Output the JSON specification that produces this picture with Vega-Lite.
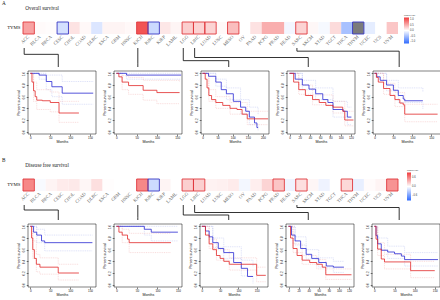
{
"$schema":"https://vega.github.io/schema/vega-lite/v6.json",
"padding":{"left":2,"top":1,"right":0,"bottom":0},
"background":"white",
"spacing":14,
"resolve":{"scale":{"x":"independent","y":"independent","color":"independent"}},
"config":{
 "view":{"stroke":null},
 "font":"Liberation Sans",
 "axis":{"grid":false,"domain":false,"tickSize":1.8,"tickWidth":0.5,"tickColor":"#000","labelFontSize":3,"labelColor":"#111","labelPadding":0.8,"labelOverlap":false,"titleFontSize":3.6,"titleFontWeight":"normal","titlePadding":1.5,"titleColor":"#111","labelFont":"Liberation Sans","titleFont":"Liberation Sans"},
 "axisX":{"titlePadding":0},
 "axisY":{"labelAngle":-90,"labelAlign":"center","labelBaseline":"bottom"},
 "style":{
  "ci":{"interpolate":"step-after","strokeWidth":0.4,"strokeDash":[1,0.8]},
  "main":{"interpolate":"step-after","strokeWidth":0.8},
  "lbox":{"fill":"#ffffff","stroke":"#999999","strokeWidth":0.3},
  "ltxt":{"fontSize":2.5,"lineHeight":3.1,"align":"right","baseline":"top","fill":"#111111","dy":0.6},
  "lsw":{"fontSize":2.5,"align":"left","baseline":"top","dy":0.6},
  "conn":{"stroke":"#333333","strokeWidth":0.8}
 }
},
"datasets":{
 "hm":[
  {"s":"A","gene":"TYMS","c":"ACC","v":0.57,"sig":1},{"s":"A","gene":"TYMS","c":"BLCA","v":0.03,"sig":0},{"s":"A","gene":"TYMS","c":"BRCA","v":0.02,"sig":0},{"s":"A","gene":"TYMS","c":"CESC","v":-0.25,"sig":1},{"s":"A","gene":"TYMS","c":"CHOL","v":0.17,"sig":0},{"s":"A","gene":"TYMS","c":"COAD","v":0.04,"sig":0},{"s":"A","gene":"TYMS","c":"DLBC","v":-0.2,"sig":0},{"s":"A","gene":"TYMS","c":"ESCA","v":0.07,"sig":0},{"s":"A","gene":"TYMS","c":"GBM","v":0.07,"sig":0},{"s":"A","gene":"TYMS","c":"HNSC","v":0.04,"sig":0},{"s":"A","gene":"TYMS","c":"KICH","v":1.05,"sig":1},{"s":"A","gene":"TYMS","c":"KIRC","v":-0.3,"sig":1},{"s":"A","gene":"TYMS","c":"KIRP","v":0.15,"sig":0},{"s":"A","gene":"TYMS","c":"LAML","v":0.06,"sig":0},{"s":"A","gene":"TYMS","c":"LGG","v":0.3,"sig":1},{"s":"A","gene":"TYMS","c":"LIHC","v":0.27,"sig":1},{"s":"A","gene":"TYMS","c":"LUAD","v":0.27,"sig":1},{"s":"A","gene":"TYMS","c":"LUSC","v":0.04,"sig":0},{"s":"A","gene":"TYMS","c":"MESO","v":0.4,"sig":1},{"s":"A","gene":"TYMS","c":"OV","v":0.0,"sig":0},{"s":"A","gene":"TYMS","c":"PAAD","v":0.18,"sig":0},{"s":"A","gene":"TYMS","c":"PCPG","v":0.5,"sig":0},{"s":"A","gene":"TYMS","c":"PRAD","v":0.5,"sig":0},{"s":"A","gene":"TYMS","c":"READ","v":-0.07,"sig":0},{"s":"A","gene":"TYMS","c":"SARC","v":0.27,"sig":1},{"s":"A","gene":"TYMS","c":"SKCM","v":0.05,"sig":0},{"s":"A","gene":"TYMS","c":"STAD","v":-0.05,"sig":0},{"s":"A","gene":"TYMS","c":"TGCT","v":0.22,"sig":0},{"s":"A","gene":"TYMS","c":"THCA","v":-0.5,"sig":0},{"s":"A","gene":"TYMS","c":"THYM","v":0,"sig":1,"na":true},{"s":"A","gene":"TYMS","c":"UCEC","v":-0.15,"sig":0},{"s":"A","gene":"TYMS","c":"UCS","v":0.0,"sig":0},{"s":"A","gene":"TYMS","c":"UVM","v":0.35,"sig":0},
  {"s":"B","gene":"TYMS","c":"ACC","v":0.55,"sig":1},{"s":"B","gene":"TYMS","c":"BLCA","v":-0.03,"sig":0},{"s":"B","gene":"TYMS","c":"BRCA","v":0.05,"sig":0},{"s":"B","gene":"TYMS","c":"CESC","v":0.09,"sig":0},{"s":"B","gene":"TYMS","c":"CHOL","v":0.1,"sig":0},{"s":"B","gene":"TYMS","c":"COAD","v":0.04,"sig":0},{"s":"B","gene":"TYMS","c":"DLBC","v":0.15,"sig":0},{"s":"B","gene":"TYMS","c":"ESCA","v":0.01,"sig":0},{"s":"B","gene":"TYMS","c":"GBM","v":0.0,"sig":0},{"s":"B","gene":"TYMS","c":"HNSC","v":0.0,"sig":0},{"s":"B","gene":"TYMS","c":"KICH","v":0.55,"sig":1},{"s":"B","gene":"TYMS","c":"KIRC","v":-0.22,"sig":1},{"s":"B","gene":"TYMS","c":"KIRP","v":0.05,"sig":0},{"s":"B","gene":"TYMS","c":"LAML","v":0.0,"sig":0},{"s":"B","gene":"TYMS","c":"LGG","v":0.22,"sig":1},{"s":"B","gene":"TYMS","c":"LIHC","v":0.22,"sig":1},{"s":"B","gene":"TYMS","c":"LUAD","v":0.06,"sig":0},{"s":"B","gene":"TYMS","c":"LUSC","v":0.07,"sig":0},{"s":"B","gene":"TYMS","c":"MESO","v":0.09,"sig":0},{"s":"B","gene":"TYMS","c":"OV","v":-0.05,"sig":0},{"s":"B","gene":"TYMS","c":"PAAD","v":0.08,"sig":0},{"s":"B","gene":"TYMS","c":"PCPG","v":0.2,"sig":0},{"s":"B","gene":"TYMS","c":"PRAD","v":0.27,"sig":1},{"s":"B","gene":"TYMS","c":"READ","v":-0.07,"sig":0},{"s":"B","gene":"TYMS","c":"SARC","v":0.15,"sig":1},{"s":"B","gene":"TYMS","c":"SKCM","v":0.04,"sig":0},{"s":"B","gene":"TYMS","c":"STAD","v":-0.07,"sig":0},{"s":"B","gene":"TYMS","c":"TGCT","v":0.0,"sig":0},{"s":"B","gene":"TYMS","c":"THCA","v":0.18,"sig":1},{"s":"B","gene":"TYMS","c":"THYM","v":-0.1,"sig":0},{"s":"B","gene":"TYMS","c":"UCEC","v":0.02,"sig":0},{"s":"B","gene":"TYMS","c":"UCS","v":0.05,"sig":0},{"s":"B","gene":"TYMS","c":"UVM","v":0.5,"sig":1}
 ],
 "cn":[
  {"s":"A","src":"ACC","tgt":"CESC"},{"s":"A","src":"KICH","tgt":"KICH"},{"s":"A","src":"LGG","tgt":"MESO"},{"s":"A","src":"LIHC","tgt":"SKCM"},{"s":"A","src":"SARC","tgt":"end"},
  {"s":"B","src":"ACC","tgt":"CESC"},{"s":"B","src":"KICH","tgt":"KICH"},{"s":"B","src":"LGG","tgt":"MESO"},{"s":"B","src":"LIHC","tgt":"SKCM"},{"s":"B","src":"SARC","tgt":"end"}
 ],
 "km":[
  {"p":"A1","g":"L","k":"m","t":0,"s":1},{"p":"A1","g":"L","k":"m","t":22,"s":0.97},{"p":"A1","g":"L","k":"m","t":40,"s":0.86},{"p":"A1","g":"L","k":"m","t":54,"s":0.77},{"p":"A1","g":"L","k":"m","t":80,"s":0.66},{"p":"A1","g":"L","k":"m","t":158,"s":0.66},
  {"p":"A1","g":"H","k":"m","t":0,"s":1},{"p":"A1","g":"H","k":"m","t":4,"s":0.85},{"p":"A1","g":"H","k":"m","t":8,"s":0.7},{"p":"A1","g":"H","k":"m","t":12,"s":0.6},{"p":"A1","g":"H","k":"m","t":16,"s":0.54},{"p":"A1","g":"H","k":"m","t":30,"s":0.53},{"p":"A1","g":"H","k":"m","t":50,"s":0.5},{"p":"A1","g":"H","k":"m","t":72,"s":0.32},{"p":"A1","g":"H","k":"m","t":122,"s":0.32},
  {"p":"A1","g":"L","k":"hi","t":0,"s":1},{"p":"A1","g":"L","k":"hi","t":40,"s":0.97},{"p":"A1","g":"L","k":"hi","t":80,"s":0.86},{"p":"A1","g":"L","k":"hi","t":158,"s":0.86},
  {"p":"A1","g":"L","k":"lo","t":0,"s":1},{"p":"A1","g":"L","k":"lo","t":22,"s":0.9},{"p":"A1","g":"L","k":"lo","t":40,"s":0.72},{"p":"A1","g":"L","k":"lo","t":54,"s":0.6},{"p":"A1","g":"L","k":"lo","t":80,"s":0.47},{"p":"A1","g":"L","k":"lo","t":158,"s":0.47},
  {"p":"A1","g":"H","k":"hi","t":0,"s":1},{"p":"A1","g":"H","k":"hi","t":8,"s":0.85},{"p":"A1","g":"H","k":"hi","t":16,"s":0.72},{"p":"A1","g":"H","k":"hi","t":50,"s":0.68},{"p":"A1","g":"H","k":"hi","t":72,"s":0.52},{"p":"A1","g":"H","k":"hi","t":122,"s":0.52},
  {"p":"A1","g":"H","k":"lo","t":0,"s":1},{"p":"A1","g":"H","k":"lo","t":8,"s":0.52},{"p":"A1","g":"H","k":"lo","t":16,"s":0.38},{"p":"A1","g":"H","k":"lo","t":50,"s":0.34},{"p":"A1","g":"H","k":"lo","t":72,"s":0.16},{"p":"A1","g":"H","k":"lo","t":122,"s":0.16},

  {"p":"A2","g":"L","k":"m","t":0,"s":1},{"p":"A2","g":"L","k":"m","t":25,"s":0.97},{"p":"A2","g":"L","k":"m","t":160,"s":0.97},
  {"p":"A2","g":"L","k":"hi","t":0,"s":1},{"p":"A2","g":"L","k":"hi","t":160,"s":1},
  {"p":"A2","g":"L","k":"lo","t":0,"s":1},{"p":"A2","g":"L","k":"lo","t":25,"s":0.9},{"p":"A2","g":"L","k":"lo","t":160,"s":0.9},
  {"p":"A2","g":"H","k":"m","t":0,"s":1},{"p":"A2","g":"H","k":"m","t":6,"s":0.94},{"p":"A2","g":"H","k":"m","t":14,"s":0.85},{"p":"A2","g":"H","k":"m","t":30,"s":0.79},{"p":"A2","g":"H","k":"m","t":66,"s":0.71},{"p":"A2","g":"H","k":"m","t":100,"s":0.67},{"p":"A2","g":"H","k":"m","t":156,"s":0.67},
  {"p":"A2","g":"H","k":"hi","t":0,"s":1},{"p":"A2","g":"H","k":"hi","t":14,"s":0.96},{"p":"A2","g":"H","k":"hi","t":30,"s":0.93},{"p":"A2","g":"H","k":"hi","t":66,"s":0.88},{"p":"A2","g":"H","k":"hi","t":156,"s":0.86},
  {"p":"A2","g":"H","k":"lo","t":0,"s":1},{"p":"A2","g":"H","k":"lo","t":14,"s":0.72},{"p":"A2","g":"H","k":"lo","t":30,"s":0.64},{"p":"A2","g":"H","k":"lo","t":66,"s":0.54},{"p":"A2","g":"H","k":"lo","t":100,"s":0.48},{"p":"A2","g":"H","k":"lo","t":156,"s":0.48},

  {"p":"A3","g":"L","k":"m","t":0,"s":1},{"p":"A3","g":"L","k":"m","t":20,"s":0.95},{"p":"A3","g":"L","k":"m","t":44,"s":0.85},{"p":"A3","g":"L","k":"m","t":62,"s":0.72},{"p":"A3","g":"L","k":"m","t":79,"s":0.65},{"p":"A3","g":"L","k":"m","t":102,"s":0.52},{"p":"A3","g":"L","k":"m","t":126,"s":0.42},{"p":"A3","g":"L","k":"m","t":143,"s":0.35},{"p":"A3","g":"L","k":"m","t":155,"s":0.25},{"p":"A3","g":"L","k":"m","t":172,"s":0.15},{"p":"A3","g":"L","k":"m","t":180,"s":0.07},{"p":"A3","g":"L","k":"m","t":184,"s":0.07},
  {"p":"A3","g":"H","k":"m","t":0,"s":1},{"p":"A3","g":"H","k":"m","t":9,"s":0.9},{"p":"A3","g":"H","k":"m","t":15,"s":0.75},{"p":"A3","g":"H","k":"m","t":21,"s":0.62},{"p":"A3","g":"H","k":"m","t":30,"s":0.55},{"p":"A3","g":"H","k":"m","t":44,"s":0.5},{"p":"A3","g":"H","k":"m","t":67,"s":0.45},{"p":"A3","g":"H","k":"m","t":91,"s":0.4},{"p":"A3","g":"H","k":"m","t":114,"s":0.38},{"p":"A3","g":"H","k":"m","t":131,"s":0.3},{"p":"A3","g":"H","k":"m","t":148,"s":0.22},{"p":"A3","g":"H","k":"m","t":217,"s":0.22},
  {"p":"A3","g":"L","k":"hi","t":0,"s":1},{"p":"A3","g":"L","k":"hi","t":44,"s":0.9},{"p":"A3","g":"L","k":"hi","t":79,"s":0.75},{"p":"A3","g":"L","k":"hi","t":126,"s":0.55},{"p":"A3","g":"L","k":"hi","t":155,"s":0.42},{"p":"A3","g":"L","k":"hi","t":184,"s":0.3},
  {"p":"A3","g":"L","k":"lo","t":0,"s":1},{"p":"A3","g":"L","k":"lo","t":44,"s":0.78},{"p":"A3","g":"L","k":"lo","t":79,"s":0.55},{"p":"A3","g":"L","k":"lo","t":126,"s":0.3},{"p":"A3","g":"L","k":"lo","t":155,"s":0.12},{"p":"A3","g":"L","k":"lo","t":184,"s":0.01},
  {"p":"A3","g":"H","k":"hi","t":0,"s":1},{"p":"A3","g":"H","k":"hi","t":21,"s":0.72},{"p":"A3","g":"H","k":"hi","t":44,"s":0.6},{"p":"A3","g":"H","k":"hi","t":91,"s":0.5},{"p":"A3","g":"H","k":"hi","t":148,"s":0.35},{"p":"A3","g":"H","k":"hi","t":217,"s":0.35},
  {"p":"A3","g":"H","k":"lo","t":0,"s":1},{"p":"A3","g":"H","k":"lo","t":21,"s":0.52},{"p":"A3","g":"H","k":"lo","t":44,"s":0.4},{"p":"A3","g":"H","k":"lo","t":91,"s":0.3},{"p":"A3","g":"H","k":"lo","t":148,"s":0.12},{"p":"A3","g":"H","k":"lo","t":217,"s":0.12},

  {"p":"A4","g":"L","k":"m","t":0,"s":1},{"p":"A4","g":"L","k":"m","t":11,"s":0.9},{"p":"A4","g":"L","k":"m","t":25,"s":0.8},{"p":"A4","g":"L","k":"m","t":38,"s":0.73},{"p":"A4","g":"L","k":"m","t":51,"s":0.65},{"p":"A4","g":"L","k":"m","t":65,"s":0.55},{"p":"A4","g":"L","k":"m","t":75,"s":0.5},{"p":"A4","g":"L","k":"m","t":85,"s":0.38},{"p":"A4","g":"L","k":"m","t":105,"s":0.35},{"p":"A4","g":"L","k":"m","t":113,"s":0.25},{"p":"A4","g":"L","k":"m","t":121,"s":0.25},
  {"p":"A4","g":"H","k":"m","t":0,"s":1},{"p":"A4","g":"H","k":"m","t":8,"s":0.85},{"p":"A4","g":"H","k":"m","t":18,"s":0.72},{"p":"A4","g":"H","k":"m","t":31,"s":0.62},{"p":"A4","g":"H","k":"m","t":45,"s":0.55},{"p":"A4","g":"H","k":"m","t":58,"s":0.5},{"p":"A4","g":"H","k":"m","t":71,"s":0.45},{"p":"A4","g":"H","k":"m","t":85,"s":0.42},{"p":"A4","g":"H","k":"m","t":104,"s":0.35},{"p":"A4","g":"H","k":"m","t":108,"s":0.2},{"p":"A4","g":"H","k":"m","t":125,"s":0.2},
  {"p":"A4","g":"L","k":"hi","t":0,"s":1},{"p":"A4","g":"L","k":"hi","t":25,"s":0.88},{"p":"A4","g":"L","k":"hi","t":51,"s":0.75},{"p":"A4","g":"L","k":"hi","t":85,"s":0.52},{"p":"A4","g":"L","k":"hi","t":113,"s":0.42},{"p":"A4","g":"L","k":"hi","t":121,"s":0.42},
  {"p":"A4","g":"L","k":"lo","t":0,"s":1},{"p":"A4","g":"L","k":"lo","t":25,"s":0.72},{"p":"A4","g":"L","k":"lo","t":51,"s":0.55},{"p":"A4","g":"L","k":"lo","t":85,"s":0.25},{"p":"A4","g":"L","k":"lo","t":113,"s":0.12},{"p":"A4","g":"L","k":"lo","t":121,"s":0.12},
  {"p":"A4","g":"H","k":"hi","t":0,"s":1},{"p":"A4","g":"H","k":"hi","t":18,"s":0.8},{"p":"A4","g":"H","k":"hi","t":45,"s":0.63},{"p":"A4","g":"H","k":"hi","t":85,"s":0.52},{"p":"A4","g":"H","k":"hi","t":108,"s":0.35},{"p":"A4","g":"H","k":"hi","t":125,"s":0.35},
  {"p":"A4","g":"H","k":"lo","t":0,"s":1},{"p":"A4","g":"H","k":"lo","t":18,"s":0.64},{"p":"A4","g":"H","k":"lo","t":45,"s":0.46},{"p":"A4","g":"H","k":"lo","t":85,"s":0.32},{"p":"A4","g":"H","k":"lo","t":108,"s":0.1},{"p":"A4","g":"H","k":"lo","t":125,"s":0.1},

  {"p":"A5","g":"L","k":"m","t":0,"s":1},{"p":"A5","g":"L","k":"m","t":6,"s":0.94},{"p":"A5","g":"L","k":"m","t":15,"s":0.88},{"p":"A5","g":"L","k":"m","t":32,"s":0.8},{"p":"A5","g":"L","k":"m","t":50,"s":0.71},{"p":"A5","g":"L","k":"m","t":63,"s":0.62},{"p":"A5","g":"L","k":"m","t":76,"s":0.56},{"p":"A5","g":"L","k":"m","t":80,"s":0.53},{"p":"A5","g":"L","k":"m","t":128,"s":0.53},
  {"p":"A5","g":"H","k":"m","t":0,"s":1},{"p":"A5","g":"H","k":"m","t":5,"s":0.93},{"p":"A5","g":"H","k":"m","t":10,"s":0.85},{"p":"A5","g":"H","k":"m","t":24,"s":0.74},{"p":"A5","g":"H","k":"m","t":41,"s":0.62},{"p":"A5","g":"H","k":"m","t":54,"s":0.55},{"p":"A5","g":"H","k":"m","t":67,"s":0.49},{"p":"A5","g":"H","k":"m","t":76,"s":0.46},{"p":"A5","g":"H","k":"m","t":80,"s":0.3},{"p":"A5","g":"H","k":"m","t":167,"s":0.3},
  {"p":"A5","g":"L","k":"hi","t":0,"s":1},{"p":"A5","g":"L","k":"hi","t":32,"s":0.88},{"p":"A5","g":"L","k":"hi","t":63,"s":0.75},{"p":"A5","g":"L","k":"hi","t":128,"s":0.68},
  {"p":"A5","g":"L","k":"lo","t":0,"s":1},{"p":"A5","g":"L","k":"lo","t":32,"s":0.7},{"p":"A5","g":"L","k":"lo","t":63,"s":0.5},{"p":"A5","g":"L","k":"lo","t":128,"s":0.38},
  {"p":"A5","g":"H","k":"hi","t":0,"s":1},{"p":"A5","g":"H","k":"hi","t":24,"s":0.83},{"p":"A5","g":"H","k":"hi","t":54,"s":0.67},{"p":"A5","g":"H","k":"hi","t":80,"s":0.47},{"p":"A5","g":"H","k":"hi","t":167,"s":0.47},
  {"p":"A5","g":"H","k":"lo","t":0,"s":1},{"p":"A5","g":"H","k":"lo","t":24,"s":0.64},{"p":"A5","g":"H","k":"lo","t":54,"s":0.43},{"p":"A5","g":"H","k":"lo","t":80,"s":0.17},{"p":"A5","g":"H","k":"lo","t":167,"s":0.17},

  {"p":"B1","g":"L","k":"m","t":0,"s":1},{"p":"B1","g":"L","k":"m","t":8,"s":0.9},{"p":"B1","g":"L","k":"m","t":16,"s":0.85},{"p":"B1","g":"L","k":"m","t":28,"s":0.75},{"p":"B1","g":"L","k":"m","t":36,"s":0.72},{"p":"B1","g":"L","k":"m","t":156,"s":0.72},
  {"p":"B1","g":"H","k":"m","t":0,"s":1},{"p":"B1","g":"H","k":"m","t":3,"s":0.8},{"p":"B1","g":"H","k":"m","t":6,"s":0.6},{"p":"B1","g":"H","k":"m","t":10,"s":0.45},{"p":"B1","g":"H","k":"m","t":15,"s":0.35},{"p":"B1","g":"H","k":"m","t":24,"s":0.3},{"p":"B1","g":"H","k":"m","t":70,"s":0.2},{"p":"B1","g":"H","k":"m","t":122,"s":0.2},
  {"p":"B1","g":"L","k":"hi","t":0,"s":1},{"p":"B1","g":"L","k":"hi","t":16,"s":0.95},{"p":"B1","g":"L","k":"hi","t":36,"s":0.85},{"p":"B1","g":"L","k":"hi","t":156,"s":0.85},
  {"p":"B1","g":"L","k":"lo","t":0,"s":1},{"p":"B1","g":"L","k":"lo","t":16,"s":0.72},{"p":"B1","g":"L","k":"lo","t":36,"s":0.58},{"p":"B1","g":"L","k":"lo","t":156,"s":0.58},
  {"p":"B1","g":"H","k":"hi","t":0,"s":1},{"p":"B1","g":"H","k":"hi","t":6,"s":0.75},{"p":"B1","g":"H","k":"hi","t":15,"s":0.52},{"p":"B1","g":"H","k":"hi","t":24,"s":0.46},{"p":"B1","g":"H","k":"hi","t":70,"s":0.35},{"p":"B1","g":"H","k":"hi","t":122,"s":0.35},
  {"p":"B1","g":"H","k":"lo","t":0,"s":1},{"p":"B1","g":"H","k":"lo","t":6,"s":0.45},{"p":"B1","g":"H","k":"lo","t":15,"s":0.22},{"p":"B1","g":"H","k":"lo","t":24,"s":0.18},{"p":"B1","g":"H","k":"lo","t":70,"s":0.08},{"p":"B1","g":"H","k":"lo","t":122,"s":0.08},

  {"p":"B2","g":"L","k":"m","t":0,"s":1},{"p":"B2","g":"L","k":"m","t":68,"s":0.95},{"p":"B2","g":"L","k":"m","t":85,"s":0.9},{"p":"B2","g":"L","k":"m","t":150,"s":0.9},
  {"p":"B2","g":"L","k":"hi","t":0,"s":1},{"p":"B2","g":"L","k":"hi","t":150,"s":1},
  {"p":"B2","g":"L","k":"lo","t":0,"s":1},{"p":"B2","g":"L","k":"lo","t":68,"s":0.85},{"p":"B2","g":"L","k":"lo","t":85,"s":0.75},{"p":"B2","g":"L","k":"lo","t":150,"s":0.75},
  {"p":"B2","g":"H","k":"m","t":0,"s":1},{"p":"B2","g":"H","k":"m","t":6,"s":0.9},{"p":"B2","g":"H","k":"m","t":14,"s":0.85},{"p":"B2","g":"H","k":"m","t":27,"s":0.78},{"p":"B2","g":"H","k":"m","t":31,"s":0.72},{"p":"B2","g":"H","k":"m","t":133,"s":0.72},
  {"p":"B2","g":"H","k":"hi","t":0,"s":1},{"p":"B2","g":"H","k":"hi","t":14,"s":0.95},{"p":"B2","g":"H","k":"hi","t":31,"s":0.88},{"p":"B2","g":"H","k":"hi","t":133,"s":0.88},
  {"p":"B2","g":"H","k":"lo","t":0,"s":1},{"p":"B2","g":"H","k":"lo","t":14,"s":0.72},{"p":"B2","g":"H","k":"lo","t":31,"s":0.55},{"p":"B2","g":"H","k":"lo","t":133,"s":0.55},

  {"p":"B3","g":"L","k":"m","t":0,"s":1},{"p":"B3","g":"L","k":"m","t":10,"s":0.92},{"p":"B3","g":"L","k":"m","t":20,"s":0.82},{"p":"B3","g":"L","k":"m","t":30,"s":0.72},{"p":"B3","g":"L","k":"m","t":45,"s":0.62},{"p":"B3","g":"L","k":"m","t":60,"s":0.55},{"p":"B3","g":"L","k":"m","t":87,"s":0.38},{"p":"B3","g":"L","k":"m","t":108,"s":0.28},{"p":"B3","g":"L","k":"m","t":125,"s":0.14},{"p":"B3","g":"L","k":"m","t":140,"s":0.14},
  {"p":"B3","g":"H","k":"m","t":0,"s":1},{"p":"B3","g":"H","k":"m","t":10,"s":0.85},{"p":"B3","g":"H","k":"m","t":20,"s":0.7},{"p":"B3","g":"H","k":"m","t":30,"s":0.6},{"p":"B3","g":"H","k":"m","t":40,"s":0.5},{"p":"B3","g":"H","k":"m","t":50,"s":0.45},{"p":"B3","g":"H","k":"m","t":60,"s":0.4},{"p":"B3","g":"H","k":"m","t":75,"s":0.35},{"p":"B3","g":"H","k":"m","t":150,"s":0.16},{"p":"B3","g":"H","k":"m","t":175,"s":0.16},
  {"p":"B3","g":"L","k":"hi","t":0,"s":1},{"p":"B3","g":"L","k":"hi","t":30,"s":0.8},{"p":"B3","g":"L","k":"hi","t":60,"s":0.65},{"p":"B3","g":"L","k":"hi","t":108,"s":0.42},{"p":"B3","g":"L","k":"hi","t":140,"s":0.3},
  {"p":"B3","g":"L","k":"lo","t":0,"s":1},{"p":"B3","g":"L","k":"lo","t":30,"s":0.64},{"p":"B3","g":"L","k":"lo","t":60,"s":0.45},{"p":"B3","g":"L","k":"lo","t":108,"s":0.15},{"p":"B3","g":"L","k":"lo","t":140,"s":0.02},
  {"p":"B3","g":"H","k":"hi","t":0,"s":1},{"p":"B3","g":"H","k":"hi","t":20,"s":0.78},{"p":"B3","g":"H","k":"hi","t":40,"s":0.6},{"p":"B3","g":"H","k":"hi","t":75,"s":0.46},{"p":"B3","g":"H","k":"hi","t":150,"s":0.3},{"p":"B3","g":"H","k":"hi","t":175,"s":0.3},
  {"p":"B3","g":"H","k":"lo","t":0,"s":1},{"p":"B3","g":"H","k":"lo","t":20,"s":0.62},{"p":"B3","g":"H","k":"lo","t":40,"s":0.42},{"p":"B3","g":"H","k":"lo","t":75,"s":0.25},{"p":"B3","g":"H","k":"lo","t":150,"s":0.05},{"p":"B3","g":"H","k":"lo","t":175,"s":0.05},

  {"p":"B4","g":"L","k":"m","t":0,"s":1},{"p":"B4","g":"L","k":"m","t":6,"s":0.85},{"p":"B4","g":"L","k":"m","t":13,"s":0.75},{"p":"B4","g":"L","k":"m","t":24,"s":0.62},{"p":"B4","g":"L","k":"m","t":35,"s":0.52},{"p":"B4","g":"L","k":"m","t":46,"s":0.45},{"p":"B4","g":"L","k":"m","t":60,"s":0.38},{"p":"B4","g":"L","k":"m","t":75,"s":0.32},{"p":"B4","g":"L","k":"m","t":89,"s":0.3},{"p":"B4","g":"L","k":"m","t":110,"s":0.3},
  {"p":"B4","g":"H","k":"m","t":0,"s":1},{"p":"B4","g":"H","k":"m","t":4,"s":0.8},{"p":"B4","g":"H","k":"m","t":9,"s":0.62},{"p":"B4","g":"H","k":"m","t":17,"s":0.5},{"p":"B4","g":"H","k":"m","t":27,"s":0.42},{"p":"B4","g":"H","k":"m","t":42,"s":0.38},{"p":"B4","g":"H","k":"m","t":56,"s":0.35},{"p":"B4","g":"H","k":"m","t":67,"s":0.3},{"p":"B4","g":"H","k":"m","t":74,"s":0.17},{"p":"B4","g":"H","k":"m","t":125,"s":0.17},
  {"p":"B4","g":"L","k":"hi","t":0,"s":1},{"p":"B4","g":"L","k":"hi","t":13,"s":0.82},{"p":"B4","g":"L","k":"hi","t":35,"s":0.6},{"p":"B4","g":"L","k":"hi","t":60,"s":0.46},{"p":"B4","g":"L","k":"hi","t":89,"s":0.4},{"p":"B4","g":"L","k":"hi","t":110,"s":0.4},
  {"p":"B4","g":"L","k":"lo","t":0,"s":1},{"p":"B4","g":"L","k":"lo","t":13,"s":0.68},{"p":"B4","g":"L","k":"lo","t":35,"s":0.44},{"p":"B4","g":"L","k":"lo","t":60,"s":0.3},{"p":"B4","g":"L","k":"lo","t":89,"s":0.21},{"p":"B4","g":"L","k":"lo","t":110,"s":0.21},
  {"p":"B4","g":"H","k":"hi","t":0,"s":1},{"p":"B4","g":"H","k":"hi","t":9,"s":0.7},{"p":"B4","g":"H","k":"hi","t":27,"s":0.5},{"p":"B4","g":"H","k":"hi","t":56,"s":0.43},{"p":"B4","g":"H","k":"hi","t":74,"s":0.27},{"p":"B4","g":"H","k":"hi","t":125,"s":0.27},
  {"p":"B4","g":"H","k":"lo","t":0,"s":1},{"p":"B4","g":"H","k":"lo","t":9,"s":0.55},{"p":"B4","g":"H","k":"lo","t":27,"s":0.35},{"p":"B4","g":"H","k":"lo","t":56,"s":0.27},{"p":"B4","g":"H","k":"lo","t":74,"s":0.09},{"p":"B4","g":"H","k":"lo","t":125,"s":0.09},

  {"p":"B5","g":"L","k":"m","t":0,"s":1},{"p":"B5","g":"L","k":"m","t":4,"s":0.84},{"p":"B5","g":"L","k":"m","t":8,"s":0.7},{"p":"B5","g":"L","k":"m","t":17,"s":0.59},{"p":"B5","g":"L","k":"m","t":33,"s":0.56},{"p":"B5","g":"L","k":"m","t":50,"s":0.53},{"p":"B5","g":"L","k":"m","t":67,"s":0.49},{"p":"B5","g":"L","k":"m","t":75,"s":0.43},{"p":"B5","g":"L","k":"m","t":158,"s":0.43},
  {"p":"B5","g":"H","k":"m","t":0,"s":1},{"p":"B5","g":"H","k":"m","t":4,"s":0.78},{"p":"B5","g":"H","k":"m","t":8,"s":0.61},{"p":"B5","g":"H","k":"m","t":17,"s":0.44},{"p":"B5","g":"H","k":"m","t":25,"s":0.39},{"p":"B5","g":"H","k":"m","t":90,"s":0.24},{"p":"B5","g":"H","k":"m","t":150,"s":0.24},
  {"p":"B5","g":"L","k":"hi","t":0,"s":1},{"p":"B5","g":"L","k":"hi","t":8,"s":0.8},{"p":"B5","g":"L","k":"hi","t":33,"s":0.66},{"p":"B5","g":"L","k":"hi","t":75,"s":0.55},{"p":"B5","g":"L","k":"hi","t":158,"s":0.55},
  {"p":"B5","g":"L","k":"lo","t":0,"s":1},{"p":"B5","g":"L","k":"lo","t":8,"s":0.6},{"p":"B5","g":"L","k":"lo","t":33,"s":0.45},{"p":"B5","g":"L","k":"lo","t":75,"s":0.32},{"p":"B5","g":"L","k":"lo","t":158,"s":0.32},
  {"p":"B5","g":"H","k":"hi","t":0,"s":1},{"p":"B5","g":"H","k":"hi","t":8,"s":0.72},{"p":"B5","g":"H","k":"hi","t":25,"s":0.52},{"p":"B5","g":"H","k":"hi","t":90,"s":0.4},{"p":"B5","g":"H","k":"hi","t":150,"s":0.4},
  {"p":"B5","g":"H","k":"lo","t":0,"s":1},{"p":"B5","g":"H","k":"lo","t":8,"s":0.5},{"p":"B5","g":"H","k":"lo","t":25,"s":0.27},{"p":"B5","g":"H","k":"lo","t":90,"s":0.12},{"p":"B5","g":"H","k":"lo","t":150,"s":0.12}
 ]
},
"vconcat":[
 {"spacing":0,"resolve":{"scale":{"x":"independent","y":"independent","color":"independent"}},
  "vconcat":[
   {"width":375,"height":12,
    "data":{"name":"hm"},
    "transform":[{"filter":"datum.s=='A'"}],
    "title":{"text":["A","\u200b\u00a0\u00a0\u00a0\u00a0\u00a0\u00a0\u00a0\u00a0\u00a0\u00a0\u00a0\u00a0\u00a0\u00a0\u00a0\u00a0\u00a0\u00a0Overall survival"],"anchor":"start","frame":"group","offset":-1.5,"baseline":"alphabetic","lineHeight":5,"fontSize":5.2,"font":"Liberation Serif","fontWeight":"normal","color":"#222222","dx":-26},
    "encoding":{
     "x":{"field":"c","type":"nominal","scale":{"domain":["ACC","BLCA","BRCA","CESC","CHOL","COAD","DLBC","ESCA","GBM","HNSC","KICH","KIRC","KIRP","LAML","LGG","LIHC","LUAD","LUSC","MESO","OV","PAAD","PCPG","PRAD","READ","SARC","SKCM","STAD","TGCT","THCA","THYM","UCEC","UCS","UVM"],"range":[-5,370],"paddingInner":0,"paddingOuter":0},
      "axis":{"title":null,"labelAngle":-45,"labelFont":"Liberation Serif","labelFontSize":4.6,"labelColor":"#666666","ticks":false,"labelPadding":2,"labelAlign":"right","labelBaseline":"middle"}},
     "y":{"field":"gene","type":"nominal","scale":{"paddingInner":0,"paddingOuter":0},
      "axis":{"title":null,"labelFont":"Liberation Serif","labelFontSize":4.8,"labelColor":"#111111","labelAngle":0,"labelAlign":"right","labelBaseline":"middle","labelPadding":8,"ticks":false}}
    },
    "layer":[
     {"mark":{"type":"rect"},
      "encoding":{"color":{"condition":{"test":"datum.na","value":"#7b7b7b"},"field":"v","type":"quantitative",
       "scale":{"domain":[-1.2,0,1.2],"range":["#2f6bff","#ffffff","#f03c3c"],"interpolate":"rgb"},
       "legend":{"title":"log10(HR)","orient":"none","legendX":376,"legendY":-8,"padding":0,"direction":"vertical","gradientLength":26,"gradientThickness":5,"titleFontSize":2.5,"titleFontWeight":"normal","titlePadding":1,"titleColor":"#333333","labelFontSize":2.6,"labelOffset":1,"labelColor":"#333333","labelOverlap":false,"values":[1,0.5,0,-0.5,-1],"format":".1f","gradientStrokeWidth":0}}}},
     {"transform":[{"filter":"datum.sig==1"}],"mark":{"type":"rect","fillOpacity":0,"strokeWidth":0.9},
      "encoding":{"stroke":{"condition":{"test":"datum.v>0","value":"#e0383d"},"value":"#3838c4"}}}
    ]},
   {"spacing":2,"resolve":{"scale":{"x":"independent","y":"independent"}},
    "vconcat":[
     {"width":386,"height":19,
      "data":{"name":"cn"},
      "transform":[{"filter":"datum.s=='A'"}],
      "encoding":{
       "x":{"field":"src","type":"nominal","scale":{"domain":["ACC","BLCA","BRCA","CESC","CHOL","COAD","DLBC","ESCA","GBM","HNSC","KICH","KIRC","KIRP","LAML","LGG","LIHC","LUAD","LUSC","MESO","OV","PAAD","PCPG","PRAD","READ","SARC","SKCM","STAD","TGCT","THCA","THYM","UCEC","UCS","UVM","end"],"range":[-9.5,376.86],"paddingInner":0,"paddingOuter":0},"axis":null},
       "y":{"field":"src","type":"nominal","scale":{"type":"point","domain":["top","SARC","ACC","LIHC","LGG","KICH","bottom"],"padding":0},"axis":null}
      },
      "layer":[
       {"mark":{"type":"rule","style":"conn"},"encoding":{"y2":{"datum":"top"}}},
       {"mark":{"type":"rule","style":"conn"},"encoding":{"x2":{"field":"tgt"}}},
       {"mark":{"type":"rule","style":"conn"},"encoding":{"x":{"field":"tgt","type":"nominal","axis":null},"y2":{"datum":"bottom"}}}
      ]},
     {"spacing":5,"resolve":{"scale":{"x":"independent","y":"independent"}},
      "hconcat":[
       {"width":68,"height":63,"view":{"stroke":"#000","strokeWidth":0.5},
        "encoding":{"x":{"field":"t","type":"quantitative","scale":{"domain":[-6,165],"nice":false,"zero":false},"axis":{"values":[0,50,100,150],"title":"Months","labelAngle":0}},
         "y":{"field":"s","type":"quantitative","scale":{"domain":[-0.04,1.04],"nice":false,"zero":false},"axis":{"values":[0,0.2,0.4,0.6,0.8,1],"format":".1f","title":"Percent survival"}}},
        "layer":[
         {"data":{"name":"km"},"transform":[{"filter":"datum.p=='A1'&&datum.k!='m'"}],"mark":{"type":"line","style":"ci"},"encoding":{"detail":[{"field":"g"},{"field":"k"}],"color":{"condition":{"test":"datum.g=='L'","value":"#a9b2ee"},"value":"#f1a9a9"}}},
         {"data":{"name":"km"},"transform":[{"filter":"datum.p=='A1'&&datum.k=='m'"}],"mark":{"type":"line","style":"main"},"encoding":{"detail":{"field":"g"},"color":{"condition":{"test":"datum.g=='L'","value":"#2b2bd3"},"value":"#e22a2a"}}},
         {"data":{"values":[{}]},"mark":{"type":"rect","style":"lbox"},"encoding":{"x":{"datum":90.6},"x2":{"datum":163.6},"y":{"datum":1.025},"y2":{"datum":0.64}}},
         {"data":{"values":[{}]},"mark":{"type":"text","style":"ltxt","text":["Low TYMS Group","High TYMS Group","Logrank p=0.0014","HR(high)=3.6","p(HR)=0.0026","n(high)=38","n(low)=38"]},"encoding":{"x":{"datum":161},"y":{"datum":1.02}}},
         {"data":{"values":[{}]},"mark":{"type":"text","style":"lsw","text":"——","fill":"#2b2bd3"},"encoding":{"x":{"datum":94},"y":{"datum":1.02}}},
         {"data":{"values":[{}]},"mark":{"type":"text","style":"lsw","text":"——","fill":"#e22a2a","dy":3.7},"encoding":{"x":{"datum":94},"y":{"datum":1.02}}}
        ]},
       {"width":68,"height":63,"view":{"stroke":"#000","strokeWidth":0.5},
        "encoding":{"x":{"field":"t","type":"quantitative","scale":{"domain":[-6,162],"nice":false,"zero":false},"axis":{"values":[0,50,100,150],"title":"Months","labelAngle":0}},
         "y":{"field":"s","type":"quantitative","scale":{"domain":[-0.04,1.04],"nice":false,"zero":false},"axis":{"values":[0,0.2,0.4,0.6,0.8,1],"format":".1f","title":"Percent survival"}}},
        "layer":[
         {"data":{"name":"km"},"transform":[{"filter":"datum.p=='A2'&&datum.k!='m'"}],"mark":{"type":"line","style":"ci"},"encoding":{"detail":[{"field":"g"},{"field":"k"}],"color":{"condition":{"test":"datum.g=='L'","value":"#a9b2ee"},"value":"#f1a9a9"}}},
         {"data":{"name":"km"},"transform":[{"filter":"datum.p=='A2'&&datum.k=='m'"}],"mark":{"type":"line","style":"main"},"encoding":{"detail":{"field":"g"},"color":{"condition":{"test":"datum.g=='L'","value":"#2b2bd3"},"value":"#e22a2a"}}},
         {"data":{"values":[{}]},"mark":{"type":"rect","style":"lbox"},"encoding":{"x":{"datum":88.9},"x2":{"datum":160.7},"y":{"datum":1.025},"y2":{"datum":0.64}}},
         {"data":{"values":[{}]},"mark":{"type":"text","style":"ltxt","text":["Low TYMS Group","High TYMS Group","Logrank p=0.017","HR(high)=7.3","p(HR)=0.037","n(high)=32","n(low)=32"]},"encoding":{"x":{"datum":158.2},"y":{"datum":1.02}}},
         {"data":{"values":[{}]},"mark":{"type":"text","style":"lsw","text":"——","fill":"#2b2bd3"},"encoding":{"x":{"datum":92.3},"y":{"datum":1.02}}},
         {"data":{"values":[{}]},"mark":{"type":"text","style":"lsw","text":"——","fill":"#e22a2a","dy":3.7},"encoding":{"x":{"datum":92.3},"y":{"datum":1.02}}}
        ]},
       {"width":68,"height":63,"view":{"stroke":"#000","strokeWidth":0.5},
        "encoding":{"x":{"field":"t","type":"quantitative","scale":{"domain":[-5,220],"nice":false,"zero":false},"axis":{"values":[0,50,100,150,200],"title":"Months","labelAngle":0}},
         "y":{"field":"s","type":"quantitative","scale":{"domain":[-0.04,1.04],"nice":false,"zero":false},"axis":{"values":[0,0.2,0.4,0.6,0.8,1],"format":".1f","title":"Percent survival"}}},
        "layer":[
         {"data":{"name":"km"},"transform":[{"filter":"datum.p=='A3'&&datum.k!='m'"}],"mark":{"type":"line","style":"ci"},"encoding":{"detail":[{"field":"g"},{"field":"k"}],"color":{"condition":{"test":"datum.g=='L'","value":"#a9b2ee"},"value":"#f1a9a9"}}},
         {"data":{"name":"km"},"transform":[{"filter":"datum.p=='A3'&&datum.k=='m'"}],"mark":{"type":"line","style":"main"},"encoding":{"detail":{"field":"g"},"color":{"condition":{"test":"datum.g=='L'","value":"#2b2bd3"},"value":"#e22a2a"}}},
         {"data":{"values":[{}]},"mark":{"type":"rect","style":"lbox"},"encoding":{"x":{"datum":122.1},"x2":{"datum":218.2},"y":{"datum":1.025},"y2":{"datum":0.64}}},
         {"data":{"values":[{}]},"mark":{"type":"text","style":"ltxt","text":["Low TYMS Group","High TYMS Group","Logrank p=1.6e-06","HR(high)=2.5","p(HR)=3.6e-06","n(high)=257","n(low)=257"]},"encoding":{"x":{"datum":214.8},"y":{"datum":1.02}}},
         {"data":{"values":[{}]},"mark":{"type":"text","style":"lsw","text":"——","fill":"#2b2bd3"},"encoding":{"x":{"datum":126.6},"y":{"datum":1.02}}},
         {"data":{"values":[{}]},"mark":{"type":"text","style":"lsw","text":"——","fill":"#e22a2a","dy":3.7},"encoding":{"x":{"datum":126.6},"y":{"datum":1.02}}}
        ]},
       {"width":68,"height":63,"view":{"stroke":"#000","strokeWidth":0.5},
        "encoding":{"x":{"field":"t","type":"quantitative","scale":{"domain":[-5,128],"nice":false,"zero":false},"axis":{"values":[0,20,40,60,80,100,120],"title":"Months","labelAngle":0}},
         "y":{"field":"s","type":"quantitative","scale":{"domain":[-0.04,1.04],"nice":false,"zero":false},"axis":{"values":[0,0.2,0.4,0.6,0.8,1],"format":".1f","title":"Percent survival"}}},
        "layer":[
         {"data":{"name":"km"},"transform":[{"filter":"datum.p=='A4'&&datum.k!='m'"}],"mark":{"type":"line","style":"ci"},"encoding":{"detail":[{"field":"g"},{"field":"k"}],"color":{"condition":{"test":"datum.g=='L'","value":"#a9b2ee"},"value":"#f1a9a9"}}},
         {"data":{"name":"km"},"transform":[{"filter":"datum.p=='A4'&&datum.k=='m'"}],"mark":{"type":"line","style":"main"},"encoding":{"detail":{"field":"g"},"color":{"condition":{"test":"datum.g=='L'","value":"#2b2bd3"},"value":"#e22a2a"}}},
         {"data":{"values":[{}]},"mark":{"type":"rect","style":"lbox"},"encoding":{"x":{"datum":70.1},"x2":{"datum":126.9},"y":{"datum":1.025},"y2":{"datum":0.64}}},
         {"data":{"values":[{}]},"mark":{"type":"text","style":"ltxt","text":["Low TYMS Group","High TYMS Group","Logrank p=0.0027","HR(high)=1.7","p(HR)=0.0031","n(high)=182","n(low)=182"]},"encoding":{"x":{"datum":124.9},"y":{"datum":1.02}}},
         {"data":{"values":[{}]},"mark":{"type":"text","style":"lsw","text":"——","fill":"#2b2bd3"},"encoding":{"x":{"datum":72.8},"y":{"datum":1.02}}},
         {"data":{"values":[{}]},"mark":{"type":"text","style":"lsw","text":"——","fill":"#e22a2a","dy":3.7},"encoding":{"x":{"datum":72.8},"y":{"datum":1.02}}}
        ]},
       {"width":68,"height":63,"view":{"stroke":"#000","strokeWidth":0.5},
        "encoding":{"x":{"field":"t","type":"quantitative","scale":{"domain":[-4,176],"nice":false,"zero":false},"axis":{"values":[0,50,100,150],"title":"Months","labelAngle":0}},
         "y":{"field":"s","type":"quantitative","scale":{"domain":[-0.04,1.04],"nice":false,"zero":false},"axis":{"values":[0,0.2,0.4,0.6,0.8,1],"format":".1f","title":"Percent survival"}}},
        "layer":[
         {"data":{"name":"km"},"transform":[{"filter":"datum.p=='A5'&&datum.k!='m'"}],"mark":{"type":"line","style":"ci"},"encoding":{"detail":[{"field":"g"},{"field":"k"}],"color":{"condition":{"test":"datum.g=='L'","value":"#a9b2ee"},"value":"#f1a9a9"}}},
         {"data":{"name":"km"},"transform":[{"filter":"datum.p=='A5'&&datum.k=='m'"}],"mark":{"type":"line","style":"main"},"encoding":{"detail":{"field":"g"},"color":{"condition":{"test":"datum.g=='L'","value":"#2b2bd3"},"value":"#e22a2a"}}},
         {"data":{"values":[{}]},"mark":{"type":"rect","style":"lbox"},"encoding":{"x":{"datum":97.7},"x2":{"datum":174.6},"y":{"datum":1.025},"y2":{"datum":0.64}}},
         {"data":{"values":[{}]},"mark":{"type":"text","style":"ltxt","text":["Low TYMS Group","High TYMS Group","Logrank p=0.021","HR(high)=1.6","p(HR)=0.022","n(high)=131","n(low)=131"]},"encoding":{"x":{"datum":171.9},"y":{"datum":1.02}}},
         {"data":{"values":[{}]},"mark":{"type":"text","style":"lsw","text":"——","fill":"#2b2bd3"},"encoding":{"x":{"datum":101.3},"y":{"datum":1.02}}},
         {"data":{"values":[{}]},"mark":{"type":"text","style":"lsw","text":"——","fill":"#e22a2a","dy":3.7},"encoding":{"x":{"datum":101.3},"y":{"datum":1.02}}}
        ]}
      ]}
    ]}
  ]},
 {"spacing":0,"resolve":{"scale":{"x":"independent","y":"independent","color":"independent"}},
  "vconcat":[
   {"width":375,"height":12,
    "data":{"name":"hm"},
    "transform":[{"filter":"datum.s=='B'"}],
    "title":{"text":["B","\u200b\u00a0\u00a0\u00a0\u00a0\u00a0\u00a0\u00a0\u00a0\u00a0\u00a0\u00a0\u00a0\u00a0\u00a0\u00a0\u00a0\u00a0\u00a0Disease free survival"],"anchor":"start","frame":"group","offset":-3.5,"baseline":"alphabetic","lineHeight":5,"fontSize":5.2,"font":"Liberation Serif","fontWeight":"normal","color":"#222222","dx":-26},
    "encoding":{
     "x":{"field":"c","type":"nominal","scale":{"domain":["ACC","BLCA","BRCA","CESC","CHOL","COAD","DLBC","ESCA","GBM","HNSC","KICH","KIRC","KIRP","LAML","LGG","LIHC","LUAD","LUSC","MESO","OV","PAAD","PCPG","PRAD","READ","SARC","SKCM","STAD","TGCT","THCA","THYM","UCEC","UCS","UVM"],"range":[-5,370],"paddingInner":0,"paddingOuter":0},
      "axis":{"title":null,"labelAngle":-45,"labelFont":"Liberation Serif","labelFontSize":4.6,"labelColor":"#666666","ticks":false,"labelPadding":2,"labelAlign":"right","labelBaseline":"middle"}},
     "y":{"field":"gene","type":"nominal","scale":{"paddingInner":0,"paddingOuter":0},
      "axis":{"title":null,"labelFont":"Liberation Serif","labelFontSize":4.8,"labelColor":"#111111","labelAngle":0,"labelAlign":"right","labelBaseline":"middle","labelPadding":8,"ticks":false}}
    },
    "layer":[
     {"mark":{"type":"rect"},
      "encoding":{"color":{"field":"v","type":"quantitative",
       "scale":{"domain":[-0.9,0,0.9],"range":["#2f6bff","#ffffff","#f03c3c"],"interpolate":"rgb"},
       "legend":{"title":"log10(HR)","orient":"none","legendX":379,"legendY":-10,"padding":0,"direction":"vertical","gradientLength":28,"gradientThickness":4,"titleFontSize":2.5,"titleFontWeight":"normal","titlePadding":1,"titleColor":"#333333","labelFontSize":2.6,"labelOffset":1,"labelColor":"#333333","labelOverlap":false,"values":[0.6,0,-0.6],"format":".1f","gradientStrokeWidth":0}}}},
     {"transform":[{"filter":"datum.sig==1"}],"mark":{"type":"rect","fillOpacity":0,"strokeWidth":0.9},
      "encoding":{"stroke":{"condition":{"test":"datum.v>0","value":"#e0383d"},"value":"#3838c4"}}}
    ]},
   {"spacing":2,"resolve":{"scale":{"x":"independent","y":"independent"}},
    "vconcat":[
     {"width":386,"height":15,
      "data":{"name":"cn"},
      "transform":[{"filter":"datum.s=='B'"}],
      "encoding":{
       "x":{"field":"src","type":"nominal","scale":{"domain":["ACC","BLCA","BRCA","CESC","CHOL","COAD","DLBC","ESCA","GBM","HNSC","KICH","KIRC","KIRP","LAML","LGG","LIHC","LUAD","LUSC","MESO","OV","PAAD","PCPG","PRAD","READ","SARC","SKCM","STAD","TGCT","THCA","THYM","UCEC","UCS","UVM","end"],"range":[-9.5,376.86],"paddingInner":0,"paddingOuter":0},"axis":null},
       "y":{"field":"src","type":"nominal","scale":{"type":"point","domain":["top","SARC","ACC","LIHC","LGG","KICH","bottom"],"padding":0},"axis":null}
      },
      "layer":[
       {"mark":{"type":"rule","style":"conn"},"encoding":{"y2":{"datum":"top"}}},
       {"mark":{"type":"rule","style":"conn"},"encoding":{"x2":{"field":"tgt"}}},
       {"mark":{"type":"rule","style":"conn"},"encoding":{"x":{"field":"tgt","type":"nominal","axis":null},"y2":{"datum":"bottom"}}}
      ]},
     {"spacing":5,"resolve":{"scale":{"x":"independent","y":"independent"}},
      "hconcat":[
       {"width":68,"height":63,"view":{"stroke":"#000","strokeWidth":0.5},
        "encoding":{"x":{"field":"t","type":"quantitative","scale":{"domain":[-6,165],"nice":false,"zero":false},"axis":{"values":[0,50,100,150],"title":"Months","labelAngle":0}},
         "y":{"field":"s","type":"quantitative","scale":{"domain":[-0.04,1.04],"nice":false,"zero":false},"axis":{"values":[0,0.2,0.4,0.6,0.8,1],"format":".1f","title":"Percent survival"}}},
        "layer":[
         {"data":{"name":"km"},"transform":[{"filter":"datum.p=='B1'&&datum.k!='m'"}],"mark":{"type":"line","style":"ci"},"encoding":{"detail":[{"field":"g"},{"field":"k"}],"color":{"condition":{"test":"datum.g=='L'","value":"#a9b2ee"},"value":"#f1a9a9"}}},
         {"data":{"name":"km"},"transform":[{"filter":"datum.p=='B1'&&datum.k=='m'"}],"mark":{"type":"line","style":"main"},"encoding":{"detail":{"field":"g"},"color":{"condition":{"test":"datum.g=='L'","value":"#2b2bd3"},"value":"#e22a2a"}}},
         {"data":{"values":[{}]},"mark":{"type":"rect","style":"lbox"},"encoding":{"x":{"datum":90.6},"x2":{"datum":163.6},"y":{"datum":1.025},"y2":{"datum":0.64}}},
         {"data":{"values":[{}]},"mark":{"type":"text","style":"ltxt","text":["Low TYMS Group","High TYMS Group","Logrank p=1e-04","HR(high)=4","p(HR)=0.00029","n(high)=38","n(low)=38"]},"encoding":{"x":{"datum":161},"y":{"datum":1.02}}},
         {"data":{"values":[{}]},"mark":{"type":"text","style":"lsw","text":"——","fill":"#2b2bd3"},"encoding":{"x":{"datum":94},"y":{"datum":1.02}}},
         {"data":{"values":[{}]},"mark":{"type":"text","style":"lsw","text":"——","fill":"#e22a2a","dy":3.7},"encoding":{"x":{"datum":94},"y":{"datum":1.02}}}
        ]},
       {"width":68,"height":63,"view":{"stroke":"#000","strokeWidth":0.5},
        "encoding":{"x":{"field":"t","type":"quantitative","scale":{"domain":[-6,160],"nice":false,"zero":false},"axis":{"values":[0,50,100,150],"title":"Months","labelAngle":0}},
         "y":{"field":"s","type":"quantitative","scale":{"domain":[-0.04,1.04],"nice":false,"zero":false},"axis":{"values":[0,0.2,0.4,0.6,0.8,1],"format":".1f","title":"Percent survival"}}},
        "layer":[
         {"data":{"name":"km"},"transform":[{"filter":"datum.p=='B2'&&datum.k!='m'"}],"mark":{"type":"line","style":"ci"},"encoding":{"detail":[{"field":"g"},{"field":"k"}],"color":{"condition":{"test":"datum.g=='L'","value":"#a9b2ee"},"value":"#f1a9a9"}}},
         {"data":{"name":"km"},"transform":[{"filter":"datum.p=='B2'&&datum.k=='m'"}],"mark":{"type":"line","style":"main"},"encoding":{"detail":{"field":"g"},"color":{"condition":{"test":"datum.g=='L'","value":"#2b2bd3"},"value":"#e22a2a"}}},
         {"data":{"values":[{}]},"mark":{"type":"rect","style":"lbox"},"encoding":{"x":{"datum":87.8},"x2":{"datum":158.7},"y":{"datum":1.025},"y2":{"datum":0.64}}},
         {"data":{"values":[{}]},"mark":{"type":"text","style":"ltxt","text":["Low TYMS Group","High TYMS Group","Logrank p=0.049","HR(high)=4.4","p(HR)=0.065","n(high)=32","n(low)=32"]},"encoding":{"x":{"datum":156.2},"y":{"datum":1.02}}},
         {"data":{"values":[{}]},"mark":{"type":"text","style":"lsw","text":"——","fill":"#2b2bd3"},"encoding":{"x":{"datum":91.1},"y":{"datum":1.02}}},
         {"data":{"values":[{}]},"mark":{"type":"text","style":"lsw","text":"——","fill":"#e22a2a","dy":3.7},"encoding":{"x":{"datum":91.1},"y":{"datum":1.02}}}
        ]},
       {"width":68,"height":63,"view":{"stroke":"#000","strokeWidth":0.5},
        "encoding":{"x":{"field":"t","type":"quantitative","scale":{"domain":[-5,181],"nice":false,"zero":false},"axis":{"values":[0,50,100,150],"title":"Months","labelAngle":0}},
         "y":{"field":"s","type":"quantitative","scale":{"domain":[-0.04,1.04],"nice":false,"zero":false},"axis":{"values":[0,0.2,0.4,0.6,0.8,1],"format":".1f","title":"Percent survival"}}},
        "layer":[
         {"data":{"name":"km"},"transform":[{"filter":"datum.p=='B3'&&datum.k!='m'"}],"mark":{"type":"line","style":"ci"},"encoding":{"detail":[{"field":"g"},{"field":"k"}],"color":{"condition":{"test":"datum.g=='L'","value":"#a9b2ee"},"value":"#f1a9a9"}}},
         {"data":{"name":"km"},"transform":[{"filter":"datum.p=='B3'&&datum.k=='m'"}],"mark":{"type":"line","style":"main"},"encoding":{"detail":{"field":"g"},"color":{"condition":{"test":"datum.g=='L'","value":"#2b2bd3"},"value":"#e22a2a"}}},
         {"data":{"values":[{}]},"mark":{"type":"rect","style":"lbox"},"encoding":{"x":{"datum":100.1},"x2":{"datum":179.5},"y":{"datum":1.025},"y2":{"datum":0.64}}},
         {"data":{"values":[{}]},"mark":{"type":"text","style":"ltxt","text":["Low TYMS Group","High TYMS Group","Logrank p=0.0027","HR(high)=1.6","p(HR)=0.0031","n(high)=257","n(low)=257"]},"encoding":{"x":{"datum":176.7},"y":{"datum":1.02}}},
         {"data":{"values":[{}]},"mark":{"type":"text","style":"lsw","text":"——","fill":"#2b2bd3"},"encoding":{"x":{"datum":103.8},"y":{"datum":1.02}}},
         {"data":{"values":[{}]},"mark":{"type":"text","style":"lsw","text":"——","fill":"#e22a2a","dy":3.7},"encoding":{"x":{"datum":103.8},"y":{"datum":1.02}}}
        ]},
       {"width":68,"height":63,"view":{"stroke":"#000","strokeWidth":0.5},
        "encoding":{"x":{"field":"t","type":"quantitative","scale":{"domain":[-5,130],"nice":false,"zero":false},"axis":{"values":[0,20,40,60,80,100,120],"title":"Months","labelAngle":0}},
         "y":{"field":"s","type":"quantitative","scale":{"domain":[-0.04,1.04],"nice":false,"zero":false},"axis":{"values":[0,0.2,0.4,0.6,0.8,1],"format":".1f","title":"Percent survival"}}},
        "layer":[
         {"data":{"name":"km"},"transform":[{"filter":"datum.p=='B4'&&datum.k!='m'"}],"mark":{"type":"line","style":"ci"},"encoding":{"detail":[{"field":"g"},{"field":"k"}],"color":{"condition":{"test":"datum.g=='L'","value":"#a9b2ee"},"value":"#f1a9a9"}}},
         {"data":{"name":"km"},"transform":[{"filter":"datum.p=='B4'&&datum.k=='m'"}],"mark":{"type":"line","style":"main"},"encoding":{"detail":{"field":"g"},"color":{"condition":{"test":"datum.g=='L'","value":"#2b2bd3"},"value":"#e22a2a"}}},
         {"data":{"values":[{}]},"mark":{"type":"rect","style":"lbox"},"encoding":{"x":{"datum":71.3},"x2":{"datum":128.9},"y":{"datum":1.025},"y2":{"datum":0.64}}},
         {"data":{"values":[{}]},"mark":{"type":"text","style":"ltxt","text":["Low TYMS Group","High TYMS Group","Logrank p=0.0063","HR(high)=1.5","p(HR)=0.0068","n(high)=182","n(low)=182"]},"encoding":{"x":{"datum":126.9},"y":{"datum":1.02}}},
         {"data":{"values":[{}]},"mark":{"type":"text","style":"lsw","text":"——","fill":"#2b2bd3"},"encoding":{"x":{"datum":74},"y":{"datum":1.02}}},
         {"data":{"values":[{}]},"mark":{"type":"text","style":"lsw","text":"——","fill":"#e22a2a","dy":3.7},"encoding":{"x":{"datum":74},"y":{"datum":1.02}}}
        ]},
       {"width":68,"height":63,"view":{"stroke":"#000","strokeWidth":0.5},
        "encoding":{"x":{"field":"t","type":"quantitative","scale":{"domain":[-6,163],"nice":false,"zero":false},"axis":{"values":[0,50,100,150],"title":"Months","labelAngle":0}},
         "y":{"field":"s","type":"quantitative","scale":{"domain":[-0.04,1.04],"nice":false,"zero":false},"axis":{"values":[0,0.2,0.4,0.6,0.8,1],"format":".1f","title":"Percent survival"}}},
        "layer":[
         {"data":{"name":"km"},"transform":[{"filter":"datum.p=='B5'&&datum.k!='m'"}],"mark":{"type":"line","style":"ci"},"encoding":{"detail":[{"field":"g"},{"field":"k"}],"color":{"condition":{"test":"datum.g=='L'","value":"#a9b2ee"},"value":"#f1a9a9"}}},
         {"data":{"name":"km"},"transform":[{"filter":"datum.p=='B5'&&datum.k=='m'"}],"mark":{"type":"line","style":"main"},"encoding":{"detail":{"field":"g"},"color":{"condition":{"test":"datum.g=='L'","value":"#2b2bd3"},"value":"#e22a2a"}}},
         {"data":{"values":[{}]},"mark":{"type":"rect","style":"lbox"},"encoding":{"x":{"datum":89.5},"x2":{"datum":161.6},"y":{"datum":1.025},"y2":{"datum":0.64}}},
         {"data":{"values":[{}]},"mark":{"type":"text","style":"ltxt","text":["Low TYMS Group","High TYMS Group","Logrank p=0.021","HR(high)=1.5","p(HR)=0.022","n(high)=131","n(low)=131"]},"encoding":{"x":{"datum":159.1},"y":{"datum":1.02}}},
         {"data":{"values":[{}]},"mark":{"type":"text","style":"lsw","text":"——","fill":"#2b2bd3"},"encoding":{"x":{"datum":92.9},"y":{"datum":1.02}}},
         {"data":{"values":[{}]},"mark":{"type":"text","style":"lsw","text":"——","fill":"#e22a2a","dy":3.7},"encoding":{"x":{"datum":92.9},"y":{"datum":1.02}}}
        ]}
      ]}
    ]}
  ]}
]
}
